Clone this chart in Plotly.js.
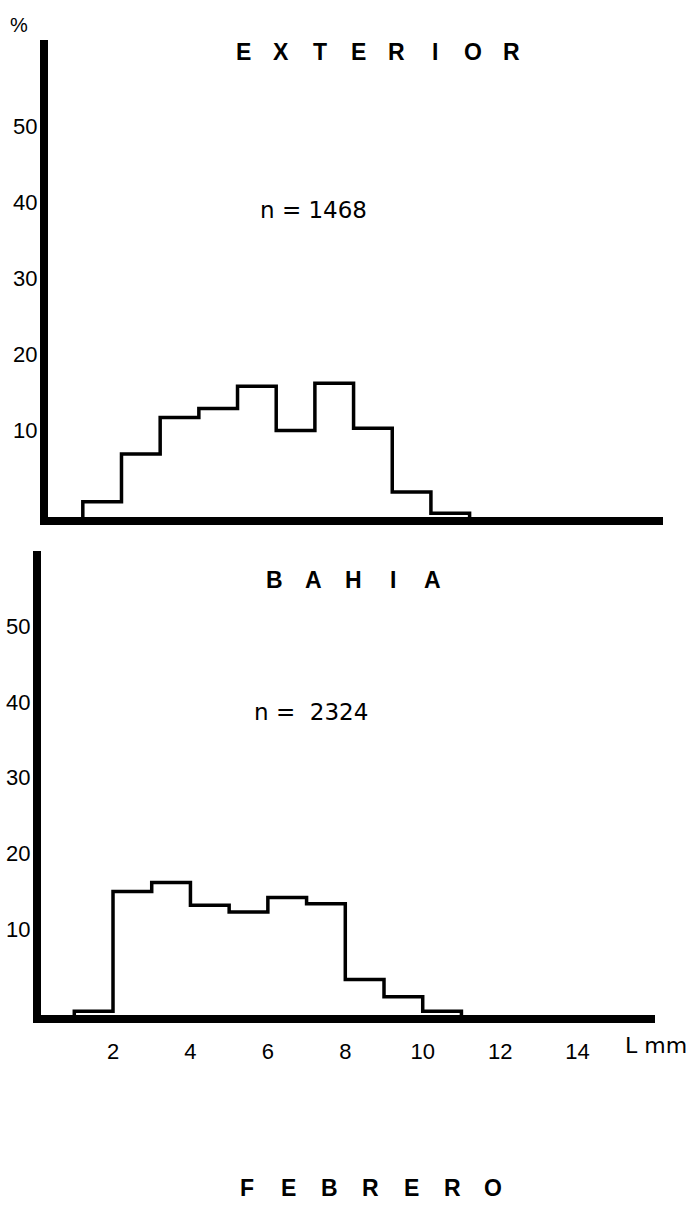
<!DOCTYPE html>
<html><head><meta charset="utf-8">
<script src="https://cdn.plot.ly/plotly-3.0.1.min.js"></script>
<style>html,body{margin:0;padding:0;background:#fff}</style>
</head><body><div id="chart" style="width:693px;height:1218px"></div>
<script>
// ---- data ----
const binEdges = [1, 2, 3, 4, 5, 6, 7, 8, 9, 10, 11];          // L mm class limits
const exteriorPct = [2.0, 8.3, 13.1, 14.3, 17.2, 11.4, 17.6, 11.7, 3.3, 0.5];
const bahiaPct    = [0.5, 16.3, 17.5, 14.5, 13.6, 15.5, 14.7, 4.7, 2.4, 0.5];
const yTickVals = [10, 20, 30, 40, 50];
const xTickVals = [2, 4, 6, 8, 10, 12, 14];
const panelTitles = ['EXTERIOR', 'BAHIA'];
const sampleLabels = ['n = 1468', 'n =  2324'];
const monthLabel = 'FEBRERO';
const xUnitLabel = 'L mm';
const yUnitLabel = '%';

const W = 693, H = 1218;
function stepXY(edges, vals) {
  const x = [edges[0]], y = [0];
  for (let i = 0; i < vals.length; i++) { x.push(edges[i]); y.push(vals[i]); }
  x.push(edges[edges.length - 1]); y.push(0);
  return {x, y};
}
const s1 = stepXY(binEdges, exteriorPct);
const s2 = stepXY(binEdges, bahiaPct);
const lineStyle = {color: '#000', width: 3.5, shape: 'hv'};
const traces = [
  {type: 'scatter', mode: 'lines', x: s1.x, y: s1.y, xaxis: 'x', yaxis: 'y', line: lineStyle, hoverinfo: 'skip'},
  {type: 'scatter', mode: 'lines', x: s2.x, y: s2.y, xaxis: 'x2', yaxis: 'y2', line: lineStyle, hoverinfo: 'skip'}
];

const tickFont = {family: 'Liberation Sans, Arial, sans-serif', size: 22, color: '#000'};
function px(v) { return v / W; }
function py(v) { return (H - v) / H; }

const baseX = {showline: true, linewidth: 8, linecolor: '#000', showgrid: false, zeroline: false,
  ticks: '', fixedrange: true, tickfont: tickFont};
const baseY = {showline: true, linewidth: 8, linecolor: '#000', showgrid: false, zeroline: false,
  ticks: '', fixedrange: true, tickvals: yTickVals, tickfont: tickFont, ticklabelshift: -11,
  ticklabelstandoff: -2};

const annotations = [];
function spaced(text, x0, pitch, y, size) {
  for (let i = 0; i < text.length; i++) {
    annotations.push({xref: 'paper', yref: 'paper', x: px(x0 + i * pitch), y: py(y),
      text: text[i], showarrow: false, xanchor: 'center', yanchor: 'middle',
      font: {family: 'Liberation Sans, Arial, sans-serif', size: size, color: '#000', weight: 'bold'}});
  }
}
spaced(panelTitles[0], 243, 38.4, 52, 23);
spaced(panelTitles[1], 274, 39.5, 580, 23);
spaced(monthLabel, 247, 41, 1188, 23);
const nFont = {family: 'DejaVu Sans, sans-serif', size: 23, color: '#000'};
annotations.push({xref: 'paper', yref: 'paper', x: px(313), y: py(210), text: sampleLabels[0],
  showarrow: false, xanchor: 'center', yanchor: 'middle', font: nFont});
annotations.push({xref: 'paper', yref: 'paper', x: px(311), y: py(712), text: sampleLabels[1],
  showarrow: false, xanchor: 'center', yanchor: 'middle', font: nFont});
annotations.push({xref: 'paper', yref: 'paper', x: px(656), y: py(1045), text: xUnitLabel,
  showarrow: false, xanchor: 'center', yanchor: 'middle',
  font: {family: 'DejaVu Sans, sans-serif', size: 22, color: '#000'}});
annotations.push({xref: 'paper', yref: 'paper', x: px(19), y: py(25), text: yUnitLabel,
  showarrow: false, xanchor: 'center', yanchor: 'middle',
  font: {family: 'Liberation Sans, Arial, sans-serif', size: 20, color: '#000'}});

const layout = {
  width: W, height: H, margin: {l: 0, r: 0, t: 0, b: 0},
  paper_bgcolor: '#fff', plot_bgcolor: '#fff', showlegend: false,
  xaxis: Object.assign({}, baseX, {domain: [px(48), px(663)], range: [0.1, 16], showticklabels: false, anchor: 'y'}),
  yaxis: Object.assign({}, baseY, {domain: [py(517), py(40)], range: [0, 62.8], anchor: 'x'}),
  xaxis2: Object.assign({}, baseX, {domain: [px(41), px(655)], range: [0.14, 16], tickvals: xTickVals,
    ticklabelstandoff: 10, anchor: 'y2'}),
  yaxis2: Object.assign({}, baseY, {domain: [py(1015), py(551)], range: [0, 61.25], ticklabelshift: -10, anchor: 'x2'}),
  annotations: annotations
};
Plotly.newPlot('chart', traces, layout, {staticPlot: true, displayModeBar: false});
</script>
</body></html>
